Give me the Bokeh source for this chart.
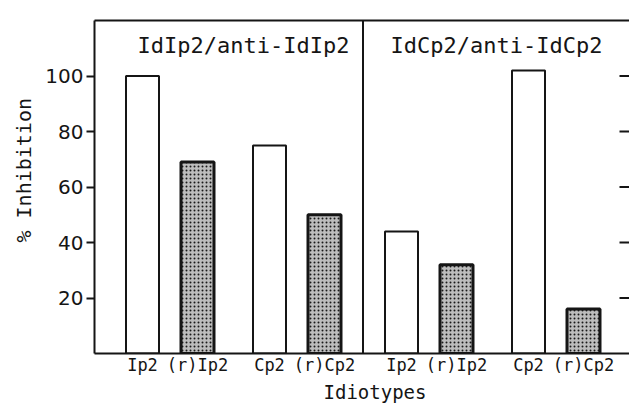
from bokeh.plotting import figure
from bokeh.models import Range1d, FixedTicker, Span, Label, ColumnDataSource, LinearAxis, Title
from bokeh.embed import file_html
from bokeh.resources import INLINE

# ---- data ----
labels = ["Ip2", "(r)Ip2", "Cp2", "(r)Cp2", "Ip2", "(r)Ip2", "Cp2", "(r)Cp2"]
inhibition = [100, 69, 75, 50, 44, 32, 102, 16]
treated = [False, True, False, True, False, True, False, True]
panels = ["IdIp2/anti-IdIp2", "IdCp2/anti-IdCp2"]
y_ticks = [20, 40, 60, 80, 100]

# ---- layout rules (x in frame pixels) ----
FRAME_W, FRAME_H = 535, 333
first, step, pair_gap, panel_gap = 48, 55, 72, 77
pos = []
x = first
for i in range(len(labels)):
    if i > 0:
        if i % 4 == 0:
            x += panel_gap
        elif i % 2 == 0:
            x += pair_gap
        else:
            x += step
    pos.append(x)

SANS = "DejaVu Sans"
MONO = "DejaVu Sans Mono"
INK = "#151515"

p = figure(frame_width=FRAME_W, frame_height=FRAME_H, output_backend="svg", toolbar_location=None,
           x_range=Range1d(0, FRAME_W), y_range=Range1d(0, 120),
           min_border_left=94, min_border_top=20, min_border_right=0, min_border_bottom=0)
p.grid.visible = False
p.background_fill_color = "white"
p.border_fill_color = "white"
p.outline_line_color = None

xa = p.below[0]
ya = p.left[0]

open_idx = [i for i in range(len(labels)) if not treated[i]]
hat_idx = [i for i in range(len(labels)) if treated[i]]
src_open = ColumnDataSource(dict(x=[pos[i] for i in open_idx], top=[inhibition[i] for i in open_idx]))
src_hat = ColumnDataSource(dict(x=[pos[i] for i in hat_idx], top=[inhibition[i] for i in hat_idx]))

p.vbar(x="x", top="top", bottom=0, width=33, source=src_open,
       fill_color="white", line_color=INK, line_width=2)
p.vbar(x="x", top="top", bottom=0, width=33, source=src_hat,
       fill_color="#bdbdbd", hatch_pattern="dot", hatch_color="#1a1a1a", hatch_scale=4,
       hatch_weight=1.6, line_color=INK, line_width=3)

# divider between panels
p.add_layout(Span(location=(pos[3] + pos[4]) / 2, dimension="height", line_color=INK, line_width=2))

# inward ticks on the right edge
p.segment(x0=[FRAME_W - 10] * len(y_ticks), x1=[FRAME_W] * len(y_ticks), y0=y_ticks, y1=y_ticks,
          line_color=INK, line_width=2)

# panel titles
for k, name in enumerate(panels):
    cx = (pos[4 * k] + pos[4 * k + 3]) / 2 + (10 if k == 0 else 4)
    p.add_layout(Label(x=cx, y=111, text=name, text_align="center", text_baseline="middle",
                       text_font=MONO, text_font_size="22px", text_color=INK))

# y axis (left)
ya.ticker = FixedTicker(ticks=y_ticks)
ya.minor_tick_line_color = None
ya.major_tick_out = 8
ya.major_tick_in = 0
ya.major_tick_line_width = 2
ya.axis_line_width = 2
ya.axis_line_color = INK
ya.major_tick_line_color = INK
ya.major_label_text_font = SANS
ya.major_label_text_font_size = "20px"
ya.major_label_text_color = INK
ya.major_label_standoff = 3

# x axis
xa.ticker = FixedTicker(ticks=pos)
xa.major_label_overrides = {pos[i]: labels[i] for i in range(len(labels))}
xa.minor_tick_line_color = None
xa.major_tick_out = 0
xa.major_tick_in = 0
xa.axis_line_width = 2
xa.axis_line_color = INK
xa.major_label_text_font = MONO
xa.major_label_text_font_size = "17px"
xa.major_label_text_color = INK
xa.major_label_standoff = 1

# top border as an axis line without ticks
top_axis = LinearAxis(ticker=FixedTicker(ticks=[]), axis_line_color=INK, axis_line_width=2,
                      major_tick_line_color=None, minor_tick_line_color=None,
                      major_tick_out=0, major_tick_in=0, major_label_standoff=0)
p.add_layout(top_axis, "above")

p.add_layout(Title(text="% Inhibition", align="left", offset=111, text_font=MONO,
                   text_font_size="20px", text_font_style="normal", text_color=INK,
                   standoff=14), "left")
p.add_layout(Title(text="Idiotypes", align="left", offset=229, text_font=MONO,
                   text_font_size="19px", text_font_style="normal", text_color=INK,
                   standoff=2), "below")

open("out.html", "w").write(file_html(p, INLINE))
